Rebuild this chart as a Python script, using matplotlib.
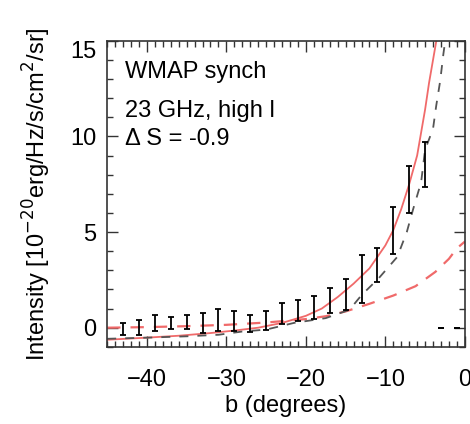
import numpy as np
import matplotlib
matplotlib.use("Agg")
import matplotlib.pyplot as plt
from matplotlib.ticker import MultipleLocator

plt.rcParams["font.family"] = ["Liberation Sans", "DejaVu Sans"]

# error bars (2 degree bins), lower and upper ends
bin_b = [-43, -41, -39, -37, -35, -33, -31, -29, -27, -25, -23,
         -21, -19, -17, -15, -13, -11, -9, -7, -5, -3, -1]
bar_lo = [-0.40, -0.40, -0.16, -0.05, -0.05, -0.28, -0.19, -0.19, -0.25, -0.14, 0.19,
          0.37, 0.47, 0.77, 0.90, 1.30, 2.40, 3.87, 6.02, 7.36, 0.0, 0.0]
bar_hi = [0.25, 0.38, 0.68, 0.56, 0.68, 0.77, 0.98, 0.86, 0.68, 0.86, 1.30,
          1.43, 1.64, 2.08, 2.55, 3.78, 4.14, 6.33, 8.46, 9.72, 0.0, 0.0]

# red solid model
red_b = [-45, -40, -36, -32, -29, -26, -23, -20, -18, -16, -14, -12, -10, -9,
         -8, -7, -6, -5, -4.5, -4, -3.5]
red_val = [-0.63, -0.52, -0.42, -0.28, -0.15, 0.0, 0.25, 0.62, 1.0, 1.6, 2.3, 3.1, 4.3, 5.1,
           6.2, 7.5, 9.0, 11.4, 12.8, 14.0, 15.2]

# red dashed model
redd_b = [-45, -40, -35, -30, -25, -20, -17.5, -15, -12, -9, -6.2, -3.7, -2, -1, 0]
redd_val = [0.0, 0.03, 0.08, 0.15, 0.27, 0.45, 0.6, 0.85, 1.25, 1.68, 2.17, 2.92, 3.6, 4.15, 4.5]

# black dashed model
blk_b = [-45, -40, -35, -31, -28, -25, -21.5, -17.5, -14.5, -13, -10.8, -8.5, -7.3,
         -6.5, -5.5, -5, -4, -3.6, -3.1, -2.7, -2.4]
blk_val = [-0.58, -0.52, -0.45, -0.37, -0.2, -0.1, 0.25, 0.5, 0.94, 1.7, 2.6, 3.7, 5.0,
           6.2, 7.6, 9.3, 10.4, 11.6, 12.9, 14.3, 15.2]

fig = plt.figure(figsize=(4.7, 4.24), dpi=100)
ax = fig.add_axes([0.228, 0.182, 0.761, 0.722])

red = "#f06a6a"
ax.plot(red_b, red_val, color=red, lw=1.3)
ax.plot(redd_b, redd_val, color=red, lw=1.6, dashes=(6, 4.5))
ax.plot(blk_b, blk_val, color="#555555", lw=1.3, dashes=(5, 5))

lo = np.array(bar_lo)
hi = np.array(bar_hi)
ax.errorbar(bin_b, lo, yerr=[np.zeros_like(lo), hi - lo], fmt="none",
            ecolor="black", elinewidth=1.3, capsize=2, capthick=1.3)

ax.set_xlim(-45, 0)
ax.set_ylim(-1, 15)
ax.xaxis.set_major_locator(MultipleLocator(10))
ax.xaxis.set_minor_locator(MultipleLocator(1))
ax.set_yticks([0, 5, 10, 15])
ax.yaxis.set_minor_locator(MultipleLocator(1))
ax.tick_params(which="both", direction="in", top=True, right=True,
               labelsize=17, color="#333333")
ax.tick_params(which="major", length=8, width=1)
ax.tick_params(which="minor", length=4, width=1)
ax.tick_params(axis="x", pad=16)
ax.tick_params(axis="y", pad=8)
for s in ax.spines.values():
    s.set_color("#333333")
    s.set_linewidth(1.2)

# top label hangs below the frame edge
ax.yaxis.get_major_ticks()[-1].label1.set_verticalalignment("top")

ax.set_xlabel("b (degrees)", fontsize=17, labelpad=3)
ax.set_ylabel("Intensity [10$^{-20}$erg/Hz/s/cm$^2$/sr]", fontsize=17, labelpad=12)

ax.text(0.05, 0.879, "WMAP synch", transform=ax.transAxes, fontsize=17,
        va="baseline", ha="left")
ax.text(0.05, 0.752, "23 GHz, high l", transform=ax.transAxes, fontsize=17,
        va="baseline", ha="left")
ax.text(0.05, 0.660, "\u0394 S = -0.9", transform=ax.transAxes, fontsize=17,
        va="baseline", ha="left")

fig.savefig("out.png", dpi=100)
